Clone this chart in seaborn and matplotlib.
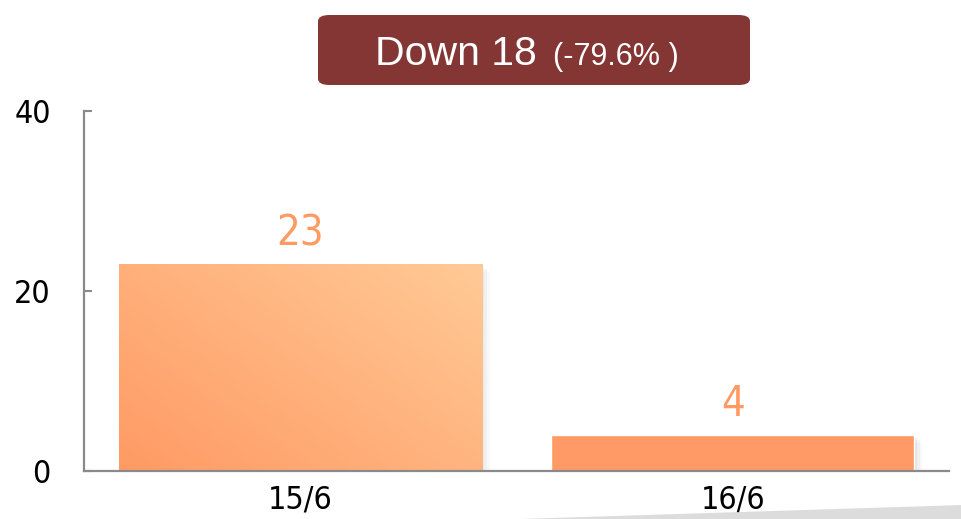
import numpy as np
import pandas as pd
import seaborn as sns
import matplotlib.pyplot as plt
from matplotlib.patches import FancyBboxPatch, Polygon
from matplotlib.colors import LinearSegmentedColormap

# chart data
dates = ["15/6", "16/6"]
counts = [23, 4]
change_main = "Down 18"
change_pct = "(-79.6% )"

bar_color = "#FF9966"
label_color = "#FF9B62"
box_color = "#833633"
narrow = ["Liberation Sans Narrow", "DejaVu Sans"]

df = pd.DataFrame({"date": dates, "count": counts})

sns.set_style("white")
fig = plt.figure(figsize=(9.62, 5.19), dpi=100)
ax = fig.add_axes([84 / 962, 1 - 471 / 519, 865 / 962, 360 / 519])

sns.barplot(data=df, x="date", y="count", color=bar_color, width=0.84,
            saturation=1, ax=ax)
ax.set_xlim(-0.5, 1.5)
ax.set_ylim(0, 40)
ax.set_yticks([0, 20, 40])
ax.set_xlabel("")
ax.set_ylabel("")

# gradient on the first bar, light at top right, darker at bottom left
grad = LinearSegmentedColormap.from_list("g", ["#FF9A64", "#FFCA96"])
gx, gy = np.meshgrid(np.linspace(0, 1, 200), np.linspace(0, 1, 200))
field = 0.55 * gx + 0.45 * (1 - gy)
for i, p in enumerate(ax.patches):
    x0, w, h = p.get_x(), p.get_width(), p.get_height()
    # soft shadow on the right side
    for k, a in enumerate([0.10, 0.07, 0.04]):
        ax.bar(x0 + w / 2 + 0.006 * (k + 1), h - 0.3 * (k + 1), width=w,
               bottom=0, color="#777777", alpha=a, zorder=1.5, linewidth=0)
    if i == 0:
        im = ax.imshow(field, cmap=grad, extent=[x0, x0 + w, 0, h],
                       origin="upper", aspect="auto", zorder=2.5)
        im.set_clip_path(p)
    p.set_zorder(2)
    ax.text(x0 + w / 2, h + 2.1, str(counts[i]), ha="center", va="baseline",
            color=label_color, fontsize=30, family=narrow,
            fontstretch="condensed", zorder=4)
ax.set_xlim(-0.5, 1.5)
ax.set_ylim(0, 40)

for s in ["top", "right"]:
    ax.spines[s].set_visible(False)
for s in ["left", "bottom"]:
    ax.spines[s].set_color("#8a8a8a")
    ax.spines[s].set_linewidth(1.6)
    ax.spines[s].set_zorder(5)
ax.spines["bottom"].set_bounds(-0.5, 1.5)

ax.tick_params(axis="y", direction="in", length=6, width=1.5, color="#8a8a8a",
               pad=24, labelsize=23, left=True)
ax.tick_params(axis="x", length=0, pad=10, labelsize=23)
for lab in ax.get_xticklabels() + ax.get_yticklabels():
    lab.set_family(narrow)
    lab.set_fontstretch("condensed")
    lab.set_color("black")

# shadow wedge under the axis on the right
fig.patches.append(Polygon([[520 / 962, 0], [962 / 962, 14 / 519], [962 / 962, 0]],
                           closed=True, transform=fig.transFigure,
                           facecolor="#d4d4d4", edgecolor="none", alpha=0.8))

# change box at the top
fig.patches.append(FancyBboxPatch((318 / 962, 1 - 85 / 519), 432 / 962, 70 / 519,
                                  boxstyle="round,pad=0,rounding_size=0.012",
                                  transform=fig.transFigure, facecolor=box_color,
                                  edgecolor="none"))
fig.text(375 / 962, 1 - 65 / 519, change_main, ha="left", va="baseline",
         color="white", fontsize=29.5, family=["Liberation Sans", "DejaVu Sans"])
fig.text(553 / 962, 1 - 65 / 519, change_pct, ha="left", va="baseline",
         color="white", fontsize=22, family=["Liberation Sans", "DejaVu Sans"])

fig.savefig("out.png", dpi=100)
